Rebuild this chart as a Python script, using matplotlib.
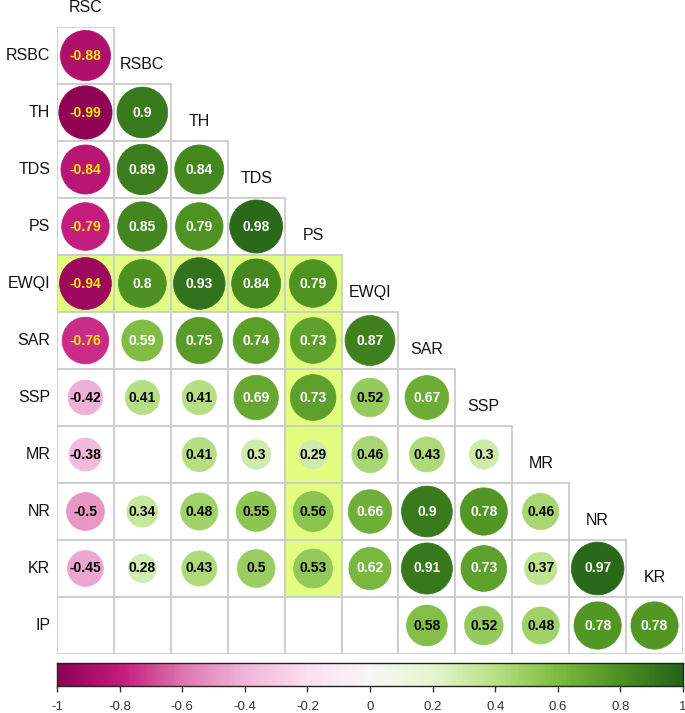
import numpy as np
import matplotlib
matplotlib.use("Agg")
import matplotlib.pyplot as plt
from matplotlib.patches import Circle, Rectangle

plt.rcParams['font.family'] = ['Liberation Sans', 'DejaVu Sans']

# variables (rows start at RSBC, columns end at KR)
names = ["RSC", "RSBC", "TH", "TDS", "PS", "EWQI", "SAR", "SSP", "MR", "NR", "KR", "IP"]
nan = np.nan
r_rsbc = [-0.88]
r_th = [-0.99, 0.9]
r_tds = [-0.84, 0.89, 0.84]
r_ps = [-0.79, 0.85, 0.79, 0.98]
r_ewqi = [-0.94, 0.8, 0.93, 0.84, 0.79]
r_sar = [-0.76, 0.59, 0.75, 0.74, 0.73, 0.87]
r_ssp = [-0.42, 0.41, 0.41, 0.69, 0.73, 0.52, 0.67]
r_mr = [-0.38, nan, 0.41, 0.3, 0.29, 0.46, 0.43, 0.3]
r_nr = [-0.5, 0.34, 0.48, 0.55, 0.56, 0.66, 0.9, 0.78, 0.46]
r_kr = [-0.45, 0.28, 0.43, 0.5, 0.53, 0.62, 0.91, 0.73, 0.37, 0.97]
r_ip = [nan, nan, nan, nan, nan, nan, 0.58, 0.52, 0.48, 0.78, 0.78]
rows = [r_rsbc, r_th, r_tds, r_ps, r_ewqi, r_sar, r_ssp, r_mr, r_nr, r_kr, r_ip]
bar_ticks = [-1, -0.8, -0.6, -0.4, -0.2, 0, 0.2, 0.4, 0.6, 0.8, 1]

# highlighted cells : EWQI row and PS column
hl_row = "EWQI"
hl_col = "PS"

W, H = 685, 713
fig = plt.figure(figsize=(W / 100, H / 100), dpi=100)
x0, x1, ytop, ybot = 57, 683, 27, 654
ax = fig.add_axes([x0 / W, 1 - ybot / H, (x1 - x0) / W, (ybot - ytop) / H])
n = len(rows)
ax.set_xlim(0, n)
ax.set_ylim(n, 0)
ax.axis('off')

cmap = plt.get_cmap('PiYG')
hl_color = '#e3fd80'
grid_c = '#cccccc'

ri = names.index(hl_row) - 1
ci = names.index(hl_col)
for i, vals in enumerate(rows):
    for j, v in enumerate(vals):
        fc = 'white'
        if i == ri or (j == ci and i >= ri and i < n - 1):
            fc = hl_color
        ax.add_patch(Rectangle((j, i), 1, 1, facecolor=fc, edgecolor=grid_c, lw=1.3, zorder=1))
for i, vals in enumerate(rows):
    for j, v in enumerate(vals):
        if np.isnan(v):
            continue
        col = cmap((v + 1) / 2)
        ax.add_patch(Circle((j + 0.5, i + 0.5), 0.47 * np.sqrt(abs(v)), facecolor=col,
                            edgecolor=col, lw=0.5, zorder=2))
        if v < -0.6:
            tc = '#ffee00'
        elif v > 0.585:
            tc = 'white'
        else:
            tc = 'black'
        ax.text(j + 0.5, i + 0.5, f"{v:g}", ha='center', va='center', color=tc,
                fontsize=10, fontweight='bold', zorder=3)

# row labels
for i in range(n):
    ax.text(-0.12, i + 0.5, names[i + 1], ha='right', va='center', fontsize=11.5,
            color='#111111', clip_on=False)
# diagonal column labels
for j in range(n):
    ax.text(j + 0.5, j - 0.34, names[j], ha='center', va='center', fontsize=11.5,
            color='#111111', clip_on=False)

# colour legend
cax = fig.add_axes([x0 / W, 1 - 686 / H, (x1 - x0) / W, 23 / H])
grad = np.linspace(-1, 1, 400).reshape(1, -1)
cax.imshow(grad, cmap=cmap, aspect='auto', extent=[-1, 1, 0, 1], vmin=-1, vmax=1)
cax.set_yticks([])
cax.set_xticks(bar_ticks)
cax.set_xticklabels([f"{t:g}" for t in bar_ticks], fontsize=9.5, color='#333333')
cax.tick_params(axis='x', direction='out', length=4, width=1, pad=7, color='#333333')
for s in cax.spines.values():
    s.set_linewidth(1)
    s.set_color('#222222')

fig.savefig("out.png", dpi=100)
